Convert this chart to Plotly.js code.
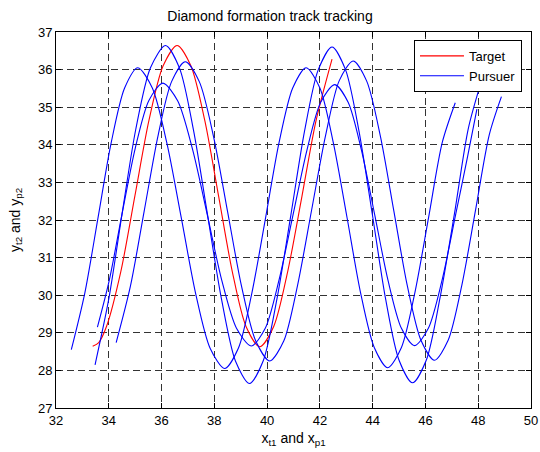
<!DOCTYPE html>
<html>
<head>
<meta charset="utf-8">
<script src="https://cdn.plot.ly/plotly-3.0.1.min.js"></script>
<style>html,body{margin:0;padding:0;background:#fff;}#chart{width:540px;height:452px;}</style>
</head>
<body>
<div id="chart"></div>
<script>
// Target trajectory
const targetX = [33.39,33.62,33.92,34.46,34.99,35.52,36.06,36.59,37.11,37.64,38.16,38.68,39.20,39.72,40.25,40.78,41.32,41.85,42.46];
const targetY = [28.64,28.74,29.18,30.64,32.64,34.64,36.10,36.64,36.10,34.64,32.64,30.63,29.17,28.63,29.17,30.63,32.63,34.63,36.28];

// Pursuer 1 (left)
const p1X = [32.58,33.09,33.59,34.09,34.60,35.10,35.65,36.20,36.75,37.29,37.84,38.39,38.91,39.42,39.94,40.45,40.97,41.48,42.00,42.51,43.03,43.54,44.06,44.57,45.09,45.60,46.12,46.64,47.13];
const p1Y = [28.55,30.05,32.05,34.05,35.51,36.05,35.51,34.05,32.05,30.05,28.59,28.05,28.59,30.05,32.05,34.05,35.51,36.05,35.51,34.05,32.06,30.07,28.61,28.07,28.61,30.07,32.07,34.07,35.12];

// Pursuer 2 (top)
const p2X = [33.48,34.00,34.50,35.02,35.58,36.15,36.68,37.21,37.74,38.27,38.80,39.33,39.85,40.37,40.90,41.42,41.94,42.46,42.97,43.48,43.99,44.49,45.00,45.51,46.03,46.55,47.10,47.62,48.08];
const p2Y = [28.15,29.90,32.15,34.40,36.05,36.64,36.04,34.39,32.15,29.90,28.25,27.65,28.25,29.89,32.13,34.37,36.00,36.60,36.00,34.37,32.14,29.90,28.27,27.67,28.27,29.92,32.17,34.42,35.60];

// Pursuer 3 (bottom)
const p3X = [33.57,34.02,34.50,35.00,35.52,36.05,36.61,37.17,37.73,38.28,38.84,39.40,39.93,40.45,40.98,41.51,42.03,42.56,43.07,43.57,44.08,44.58,45.09,45.59,46.11,46.63,47.15,47.60,47.95];
const p3Y = [29.15,30.40,32.15,33.90,35.18,35.64,35.17,33.89,32.15,30.40,29.12,28.65,29.12,30.40,32.13,33.86,35.13,35.60,35.13,33.87,32.13,30.40,29.12,28.66,29.12,30.40,32.16,33.70,34.95];

// Pursuer 4 (right)
const p4X = [34.28,34.82,35.34,35.86,36.38,36.90,37.43,37.97,38.50,39.03,39.57,40.10,40.63,41.15,41.68,42.21,42.73,43.26,43.77,44.29,44.80,45.31,45.83,46.34,46.86,47.38,47.90,48.42,48.88];
const p4Y = [28.74,30.24,32.23,34.22,35.68,36.21,35.68,34.22,32.23,30.24,28.78,28.25,28.78,30.25,32.24,34.23,35.70,36.23,35.70,34.24,32.25,30.26,28.80,28.27,28.80,30.27,32.27,34.27,35.28];

const xTicks = [32,34,36,38,40,42,44,46,48,50];
const yTicks = [27,28,29,30,31,32,33,34,35,36,37];

const red = '#ff0000', blue = '#0000ff';
const lw = 1.1;
function pursuer(x, y, show) {
  return {x: x, y: y, type: 'scatter', mode: 'lines', name: 'Pursuer',
    legendgroup: 'p', showlegend: show,
    line: {color: blue, width: lw, shape: 'spline', smoothing: 0.8}};
}
const traces = [
  {x: targetX, y: targetY, type: 'scatter', mode: 'lines', name: 'Target',
   line: {color: red, width: lw, shape: 'spline', smoothing: 0.8}},
  pursuer(p1X, p1Y, true),
  pursuer(p2X, p2Y, false),
  pursuer(p3X, p3Y, false),
  pursuer(p4X, p4Y, false)
];

const axisCommon = {
  ticks: 'inside', ticklen: 5, tickwidth: 1, tickcolor: '#000',
  showline: true, mirror: 'allticks', linecolor: '#000', linewidth: 1,
  showgrid: true, gridcolor: '#333', gridwidth: 1, griddash: '7px,4px',
  zeroline: false, tickfont: {size: 13, color: '#000'}
};

const layout = {
  width: 540, height: 452,
  margin: {l: 56, r: 9, t: 32, b: 44, pad: 0},
  paper_bgcolor: '#fff', plot_bgcolor: '#fff',
  font: {family: '"Liberation Sans", Arial, Helvetica, sans-serif', size: 13, color: '#000'},
  title: {text: 'Diamond formation track tracking', x: 0.5, xanchor: 'center',
          y: 1 - 16/452, yanchor: 'middle', font: {size: 14, color: '#000'}},
  xaxis: Object.assign({}, axisCommon, {
    range: [32, 50], tickvals: xTicks, ticktext: xTicks.map(String),
    title: {text: 'x<sub>t1</sub> and x<sub>p1</sub>', standoff: 6, font: {size: 14}}
  }),
  yaxis: Object.assign({}, axisCommon, {
    range: [27, 37], tickvals: yTicks, ticktext: yTicks.map(String),
    title: {text: 'y<sub>t2</sub> and y<sub>p2</sub>', standoff: 14, font: {size: 14}}
  }),
  legend: {x: 0.981, y: 0.979, xanchor: 'right', yanchor: 'top',
           bgcolor: '#fff', bordercolor: '#000', borderwidth: 1, itemwidth: 44,
           font: {size: 13, color: '#000'}, tracegroupgap: 0},
  showlegend: true
};

Plotly.newPlot('chart', traces, layout, {staticPlot: true, displayModeBar: false});
</script>
</body>
</html>
